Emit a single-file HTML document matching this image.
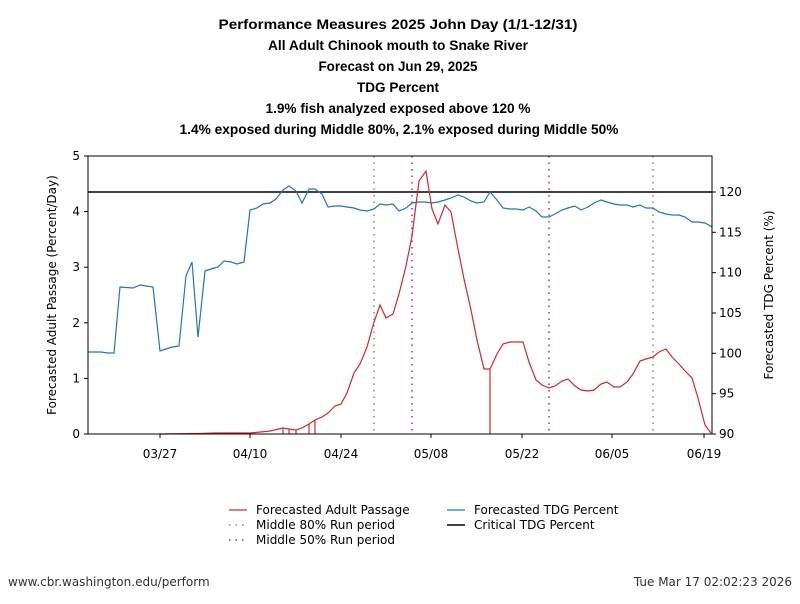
<!DOCTYPE html>
<html><head><meta charset="utf-8"><style>
body{margin:0;background:#fff;width:800px;height:600px;overflow:hidden;font-family:"DejaVu Sans","Liberation Sans",sans-serif;}
</style></head><body>
<svg width="800" height="600" xmlns="http://www.w3.org/2000/svg" font-family="DejaVu Sans, Liberation Sans, sans-serif">
<g font-size="14" font-weight="bold" text-anchor="middle" fill="#000" font-family="Liberation Sans, sans-serif">
<text x="398" y="29" textLength="359" lengthAdjust="spacingAndGlyphs">Performance Measures 2025 John Day (1/1-12/31)</text>
<text x="398" y="50" textLength="260" lengthAdjust="spacingAndGlyphs">All Adult Chinook mouth to Snake River</text>
<text x="398" y="71" textLength="159" lengthAdjust="spacingAndGlyphs">Forecast on Jun 29, 2025</text>
<text x="398" y="92" textLength="82" lengthAdjust="spacingAndGlyphs">TDG Percent</text>
<text x="398" y="113" textLength="265" lengthAdjust="spacingAndGlyphs">1.9% fish analyzed exposed above 120 %</text>
<text x="399" y="134" textLength="439" lengthAdjust="spacingAndGlyphs">1.4% exposed during Middle 80%, 2.1% exposed during Middle 50%</text>
</g>
<line x1="374" y1="156" x2="374" y2="434" stroke="#888" stroke-width="1.5" stroke-dasharray="1.5,5"/>
<line x1="653" y1="156" x2="653" y2="434" stroke="#888" stroke-width="1.5" stroke-dasharray="1.5,5"/>
<line x1="412" y1="156" x2="412" y2="434" stroke="#a020f0" stroke-width="1.5" stroke-dasharray="1.5,5"/>
<line x1="549" y1="156" x2="549" y2="434" stroke="#a020f0" stroke-width="1.5" stroke-dasharray="1.5,5"/>
<line x1="88" y1="192" x2="712" y2="192" stroke="#000" stroke-width="1.5"/>
<polyline fill="none" stroke="#1f77b4" stroke-width="1.2" points="88,352 101,352 108,353 114,353 120,287 133,288 140,285 146,286 153,287 160,351 166,349 172,347 179,346 186,276 192,262 198,337 205,271 211,269 218,267 224,261 231,262 237,264 244,262 250,210 257,208 263,204 270,203 276,199 283,190 289,186 296,191 302,203 309,189 315,189 322,194 328,207 335,206 341,206 347,207 354,208 360,210 367,211 374,209 380,204 386,205 393,204 399,211 406,208 412,203 419,202 425,202 432,203 438,202 445,200 451,198 458,195 464,197 471,201 477,203 484,202 490,192 497,200 503,208 510,209 516,209 523,210 529,207 536,211 542,217 549,217 555,214 562,210 568,208 575,206 581,210 588,207 594,203 601,200 607,202 614,204 620,205 627,205 633,207 640,205 646,208 653,208 659,212 666,214 672,215 679,215 685,217 692,222 698,222 705,223 712,227"/>
<polyline fill="none" stroke="#d62728" stroke-width="1.2" points="160,434 200,433.5 215,433 240,433 250,433 270,431 283,428 289,429 296,430 302,428 309,424 315,420 322,417 328,413 335,406 341,404 347,393 354,373 360,364 367,347 374,322 380,305 386,318 393,314 399,294 406,266 412,236 419,181 426,171 432,209 438,224 445,205 451,212 458,249 464,279 471,310 477,340 484,369 490,369 497,354 503,344 510,342 516,342 523,342 529,362 536,380 542,385 549,388 555,386 562,381 568,379 575,386 581,390 588,391 594,390 601,384 607,382 614,387 620,387 627,382 633,374 640,361 646,359 653,357 659,352 666,349 672,357 679,364 685,371 692,378 698,398 705,425 711,433"/>
<g stroke="#d62728" stroke-width="1.2">
<line x1="490" y1="369" x2="490" y2="434"/>
<line x1="283" y1="428" x2="283" y2="434"/><line x1="289" y1="429" x2="289" y2="434"/><line x1="296" y1="430" x2="296" y2="434"/><line x1="309" y1="424" x2="309" y2="434"/><line x1="315" y1="420" x2="315" y2="434"/>
</g>
<rect x="88" y="156" width="624" height="278" fill="none" stroke="#000" stroke-width="1"/>
<g stroke="#000" stroke-width="1">
<line x1="84" y1="434" x2="88" y2="434"/><line x1="84" y1="378.4" x2="88" y2="378.4"/><line x1="84" y1="322.8" x2="88" y2="322.8"/><line x1="84" y1="267.2" x2="88" y2="267.2"/><line x1="84" y1="211.6" x2="88" y2="211.6"/><line x1="84" y1="156" x2="88" y2="156"/>
<line x1="712" y1="434" x2="716" y2="434"/><line x1="712" y1="393.7" x2="716" y2="393.7"/><line x1="712" y1="353.3" x2="716" y2="353.3"/><line x1="712" y1="313" x2="716" y2="313"/><line x1="712" y1="272.7" x2="716" y2="272.7"/><line x1="712" y1="232.3" x2="716" y2="232.3"/><line x1="712" y1="192" x2="716" y2="192"/>
<line x1="160" y1="434" x2="160" y2="438"/><line x1="250" y1="434" x2="250" y2="438"/><line x1="341" y1="434" x2="341" y2="438"/><line x1="431" y1="434" x2="431" y2="438"/><line x1="522" y1="434" x2="522" y2="438"/><line x1="612" y1="434" x2="612" y2="438"/><line x1="704" y1="434" x2="704" y2="438"/>
</g>
<g font-size="12" fill="#000">
<g text-anchor="end"><text x="80" y="438">0</text><text x="80" y="382.4">1</text><text x="80" y="326.8">2</text><text x="80" y="271.2">3</text><text x="80" y="215.6">4</text><text x="80" y="160">5</text></g>
<g text-anchor="start"><text x="719" y="438">90</text><text x="719" y="397.7">95</text><text x="719" y="357.3">100</text><text x="719" y="317">105</text><text x="719" y="276.7">110</text><text x="719" y="236.3">115</text><text x="719" y="196">120</text></g>
<g text-anchor="middle"><text x="160" y="458">03/27</text><text x="250" y="458">04/10</text><text x="341" y="458">04/24</text><text x="431" y="458">05/08</text><text x="522" y="458">05/22</text><text x="612" y="458">06/05</text><text x="704" y="458">06/19</text></g>
<text transform="translate(56,295) rotate(-90)" text-anchor="middle">Forecasted Adult Passage (Percent/Day)</text>
<text transform="translate(773,295) rotate(-90)" text-anchor="middle">Forecasted TDG Percent (%)</text>
<text x="256" y="514">Forecasted Adult Passage</text>
<text x="256" y="529">Middle 80% Run period</text>
<text x="256" y="544">Middle 50% Run period</text>
<text x="474" y="514">Forecasted TDG Percent</text>
<text x="474" y="529">Critical TDG Percent</text>
<text x="8" y="586" fill="#333">www.cbr.washington.edu/perform</text>
<text x="792" y="586" fill="#333" text-anchor="end">Tue Mar 17 02:02:23 2026</text>
</g>
<line x1="229" y1="510" x2="247" y2="510" stroke="#d62728" stroke-width="1.2"/>
<line x1="229" y1="525" x2="247" y2="525" stroke="#888" stroke-width="1.5" stroke-dasharray="1.5,5"/>
<line x1="229" y1="540" x2="247" y2="540" stroke="#a020f0" stroke-width="1.5" stroke-dasharray="1.5,5"/>
<line x1="447" y1="510" x2="465" y2="510" stroke="#1f77b4" stroke-width="1.2"/>
<line x1="447" y1="525" x2="465" y2="525" stroke="#000" stroke-width="1.5"/>
</svg>
</body></html>
